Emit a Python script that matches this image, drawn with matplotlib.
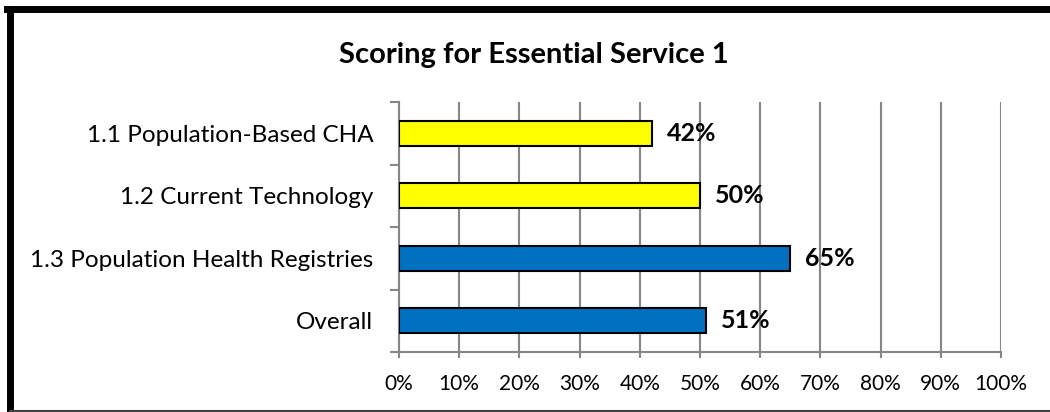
#!/usr/bin/env python3
'''
Scoring for Essential Service 1 - horizontal bar chart
'''
import matplotlib
matplotlib.use('Agg')
import matplotlib.pyplot as plt
from matplotlib.lines import Line2D
import numpy as np

categories = ['1.1 Population-Based CHA', '1.2 Current Technology',
              '1.3 Population Health Registries', 'Overall']
scores = [42, 50, 65, 51]
bar_colors = ['#FFFF00', '#FFFF00', '#0070C0', '#0070C0']
x_ticks = [0, 10, 20, 30, 40, 50, 60, 70, 80, 90, 100]

plt.rcParams['font.family'] = ['Lato', 'DejaVu Sans']

fig = plt.figure(figsize=(10.5, 4.12), dpi=100)
ax = fig.add_axes([399 / 1050, 1 - 352 / 412, 602 / 1050, 250 / 412])

y = np.arange(len(categories))
ax.barh(y, scores, height=0.4, color=bar_colors, edgecolor='black',
        linewidth=1.5, zorder=3)

for yi, v in zip(y, scores):
    ax.text(v + 2.5, yi, f'{v}%', va='center', ha='left',
            fontsize=18, fontweight='bold', zorder=4)

ax.set_xlim(0, 100)
ax.set_ylim(len(categories) - 0.5, -0.5)
ax.set_xticks(x_ticks)
ax.set_xticklabels([f'{t}%' for t in x_ticks], fontsize=15)
ax.set_yticks(y)
ax.set_yticklabels(categories, fontsize=17.5)
ax.set_yticks(np.arange(-0.5, len(categories), 1), minor=True)

ax.grid(axis='x', color='#868686', linewidth=1.5, zorder=0)
ax.tick_params(axis='x', length=4, width=1.5, color='#868686', pad=12)
ax.tick_params(axis='y', which='major', length=0, pad=18.5)
ax.tick_params(axis='y', which='minor', length=6.5, width=1.5, color='#868686')

for side in ['top', 'right']:
    ax.spines[side].set_visible(False)
for side in ['left', 'bottom']:
    ax.spines[side].set_color('#868686')
    ax.spines[side].set_linewidth(1.5)

fig.text(534 / 1050, 1 - 55 / 412, 'Scoring for Essential Service 1',
         ha='center', va='center', fontsize=21, fontweight='bold')

# outer chart frame
fig.add_artist(Line2D([10 / 1050, 10 / 1050], [0, 1 - 9 / 412],
                      color='black', linewidth=5, transform=fig.transFigure))
fig.add_artist(Line2D([7 / 1050, 1], [1 - 9 / 412, 1 - 9 / 412],
                      color='black', linewidth=5, transform=fig.transFigure))
fig.add_artist(Line2D([10 / 1050, 1], [1.5 / 412, 1.5 / 412],
                      color='#404040', linewidth=1.5, transform=fig.transFigure))

fig.savefig('out.png', dpi=100)
